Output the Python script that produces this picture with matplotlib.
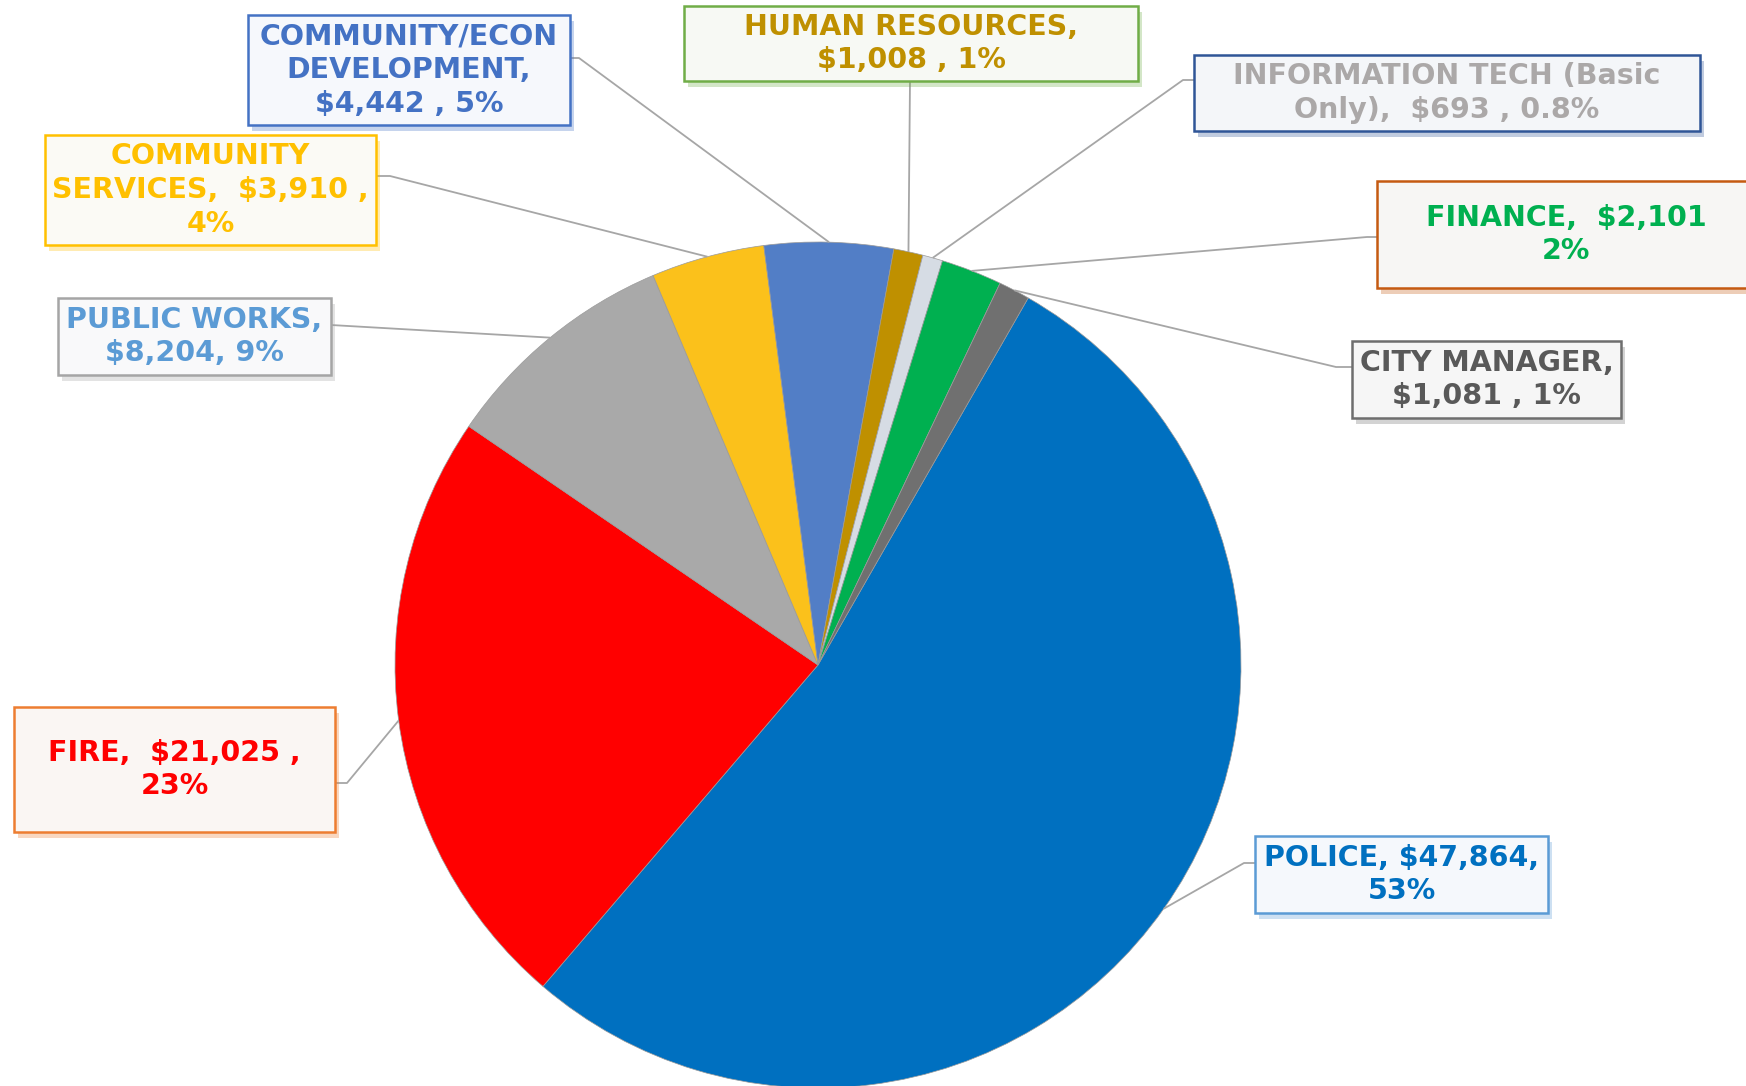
import numpy as np
import matplotlib
matplotlib.use("Agg")
import matplotlib.pyplot as plt
import matplotlib.patheffects as pe
from matplotlib.patches import Rectangle

# data (clockwise from police)
depts = ["POLICE", "FIRE", "PUBLIC WORKS", "COMMUNITY SERVICES",
         "COMMUNITY/ECON DEVELOPMENT", "HUMAN RESOURCES",
         "INFORMATION TECH (Basic Only)", "FINANCE", "CITY MANAGER"]
budget = [47864, 21025, 8204, 3910, 4442, 1008, 693, 2101, 1081]
labels = ["POLICE, $47,864,\n53%",
          "FIRE,  $21,025 ,\n23%",
          "PUBLIC WORKS,\n$8,204, 9%",
          "COMMUNITY\nSERVICES,  $3,910 ,\n4%",
          "COMMUNITY/ECON\nDEVELOPMENT,\n$4,442 , 5%",
          "HUMAN RESOURCES,\n$1,008 , 1%",
          "INFORMATION TECH (Basic\nOnly),  $693 , 0.8%",
          "FINANCE,  $2,101\n2%",
          "CITY MANAGER,\n$1,081 , 1%"]
slice_colors = ["#0070C0", "#FF0000", "#A9A9A9", "#FBC11B", "#527EC6",
                "#BF9000", "#D6DCE4", "#00B050", "#707070"]
text_colors = ["#0070C0", "#FF0000", "#5B9BD5", "#FFC000", "#4472C4",
               "#BF9000", "#ABA8A8", "#00B050", "#595959"]
border_colors = ["#5B9BD5", "#ED7D31", "#A5A5A5", "#FFC000", "#4472C4",
                 "#70AD47", "#2F5597", "#C55A11", "#6E6E6E"]
box_faces = ["#F5F8FC", "#FAF6F3", "#F9F9FA", "#FBFAF5", "#F6F8FC",
             "#F7F9F4", "#F4F6F9", "#F7F6F4", "#F6F6F6"]

# layout in pixels, measured from the top-left corner
W, H = 1746, 1086
boxes = [(1255, 836, 1548, 913), (14, 707, 335, 832), (58, 298, 331, 375),
         (45, 135, 376, 245), (248, 15, 570, 125), (684, 6, 1138, 81),
         (1194, 55, 1700, 131), (1377, 181, 1760, 288), (1352, 341, 1621, 418)]
text_x = [None, None, None, None, None, None, None, 1566, None]
starts = [(1255, 863), (335, 783), (331, 325), (376, 176), (570, 58),
          (910, 81), (1194, 80), (1377, 237), (1352, 367)]
elbows = [(1244, 863), (347, 783), (331, 325), (390, 176), (579, 58),
          (910, 81), (1183, 80), (1367, 237), (1336, 367)]

fig = plt.figure(figsize=(W / 100, H / 100), dpi=100)
ax = fig.add_axes([0, 0, 1, 1])


def fy(y):
    return H - y


cx, cy, r = 818, fy(665), 423
wedges, _ = ax.pie(budget, colors=slice_colors, startangle=60.2,
                   counterclock=False, center=(cx, cy), radius=r,
                   wedgeprops=dict(linewidth=0.5, edgecolor="#9a9a9a"),
                   frame=True)
ax.set_xlim(0, W)
ax.set_ylim(0, H)
ax.set_aspect("equal")
ax.axis("off")

for i, w in enumerate(wedges):
    mid = np.deg2rad((w.theta1 + w.theta2) / 2)
    px = cx + r * np.cos(mid)
    py = cy + r * np.sin(mid)
    sx, sy = starts[i]
    ex, ey = elbows[i]
    ax.plot([sx, ex, px], [fy(sy), fy(ey), py], color="#A6A6A6", lw=1.3,
            zorder=3, solid_capstyle="butt")

    x0, y0, x1, y1 = boxes[i]
    rect = Rectangle((x0, fy(y1)), x1 - x0, y1 - y0, facecolor=box_faces[i],
                     edgecolor=border_colors[i], lw=1.8, zorder=4,
                     clip_on=False)
    rect.set_path_effects([pe.SimplePatchShadow(offset=(3, -4),
                                                shadow_rgbFace=border_colors[i],
                                                alpha=0.3),
                           pe.Normal()])
    ax.add_patch(rect)
    tx = text_x[i] if text_x[i] is not None else (x0 + x1) / 2
    ax.text(tx, fy((y0 + y1) / 2), labels[i], ha="center", va="center",
            fontsize=20.5, fontweight="bold", color=text_colors[i],
            family="DejaVu Sans", linespacing=1.27, zorder=5)

fig.savefig("out.png", dpi=100)
